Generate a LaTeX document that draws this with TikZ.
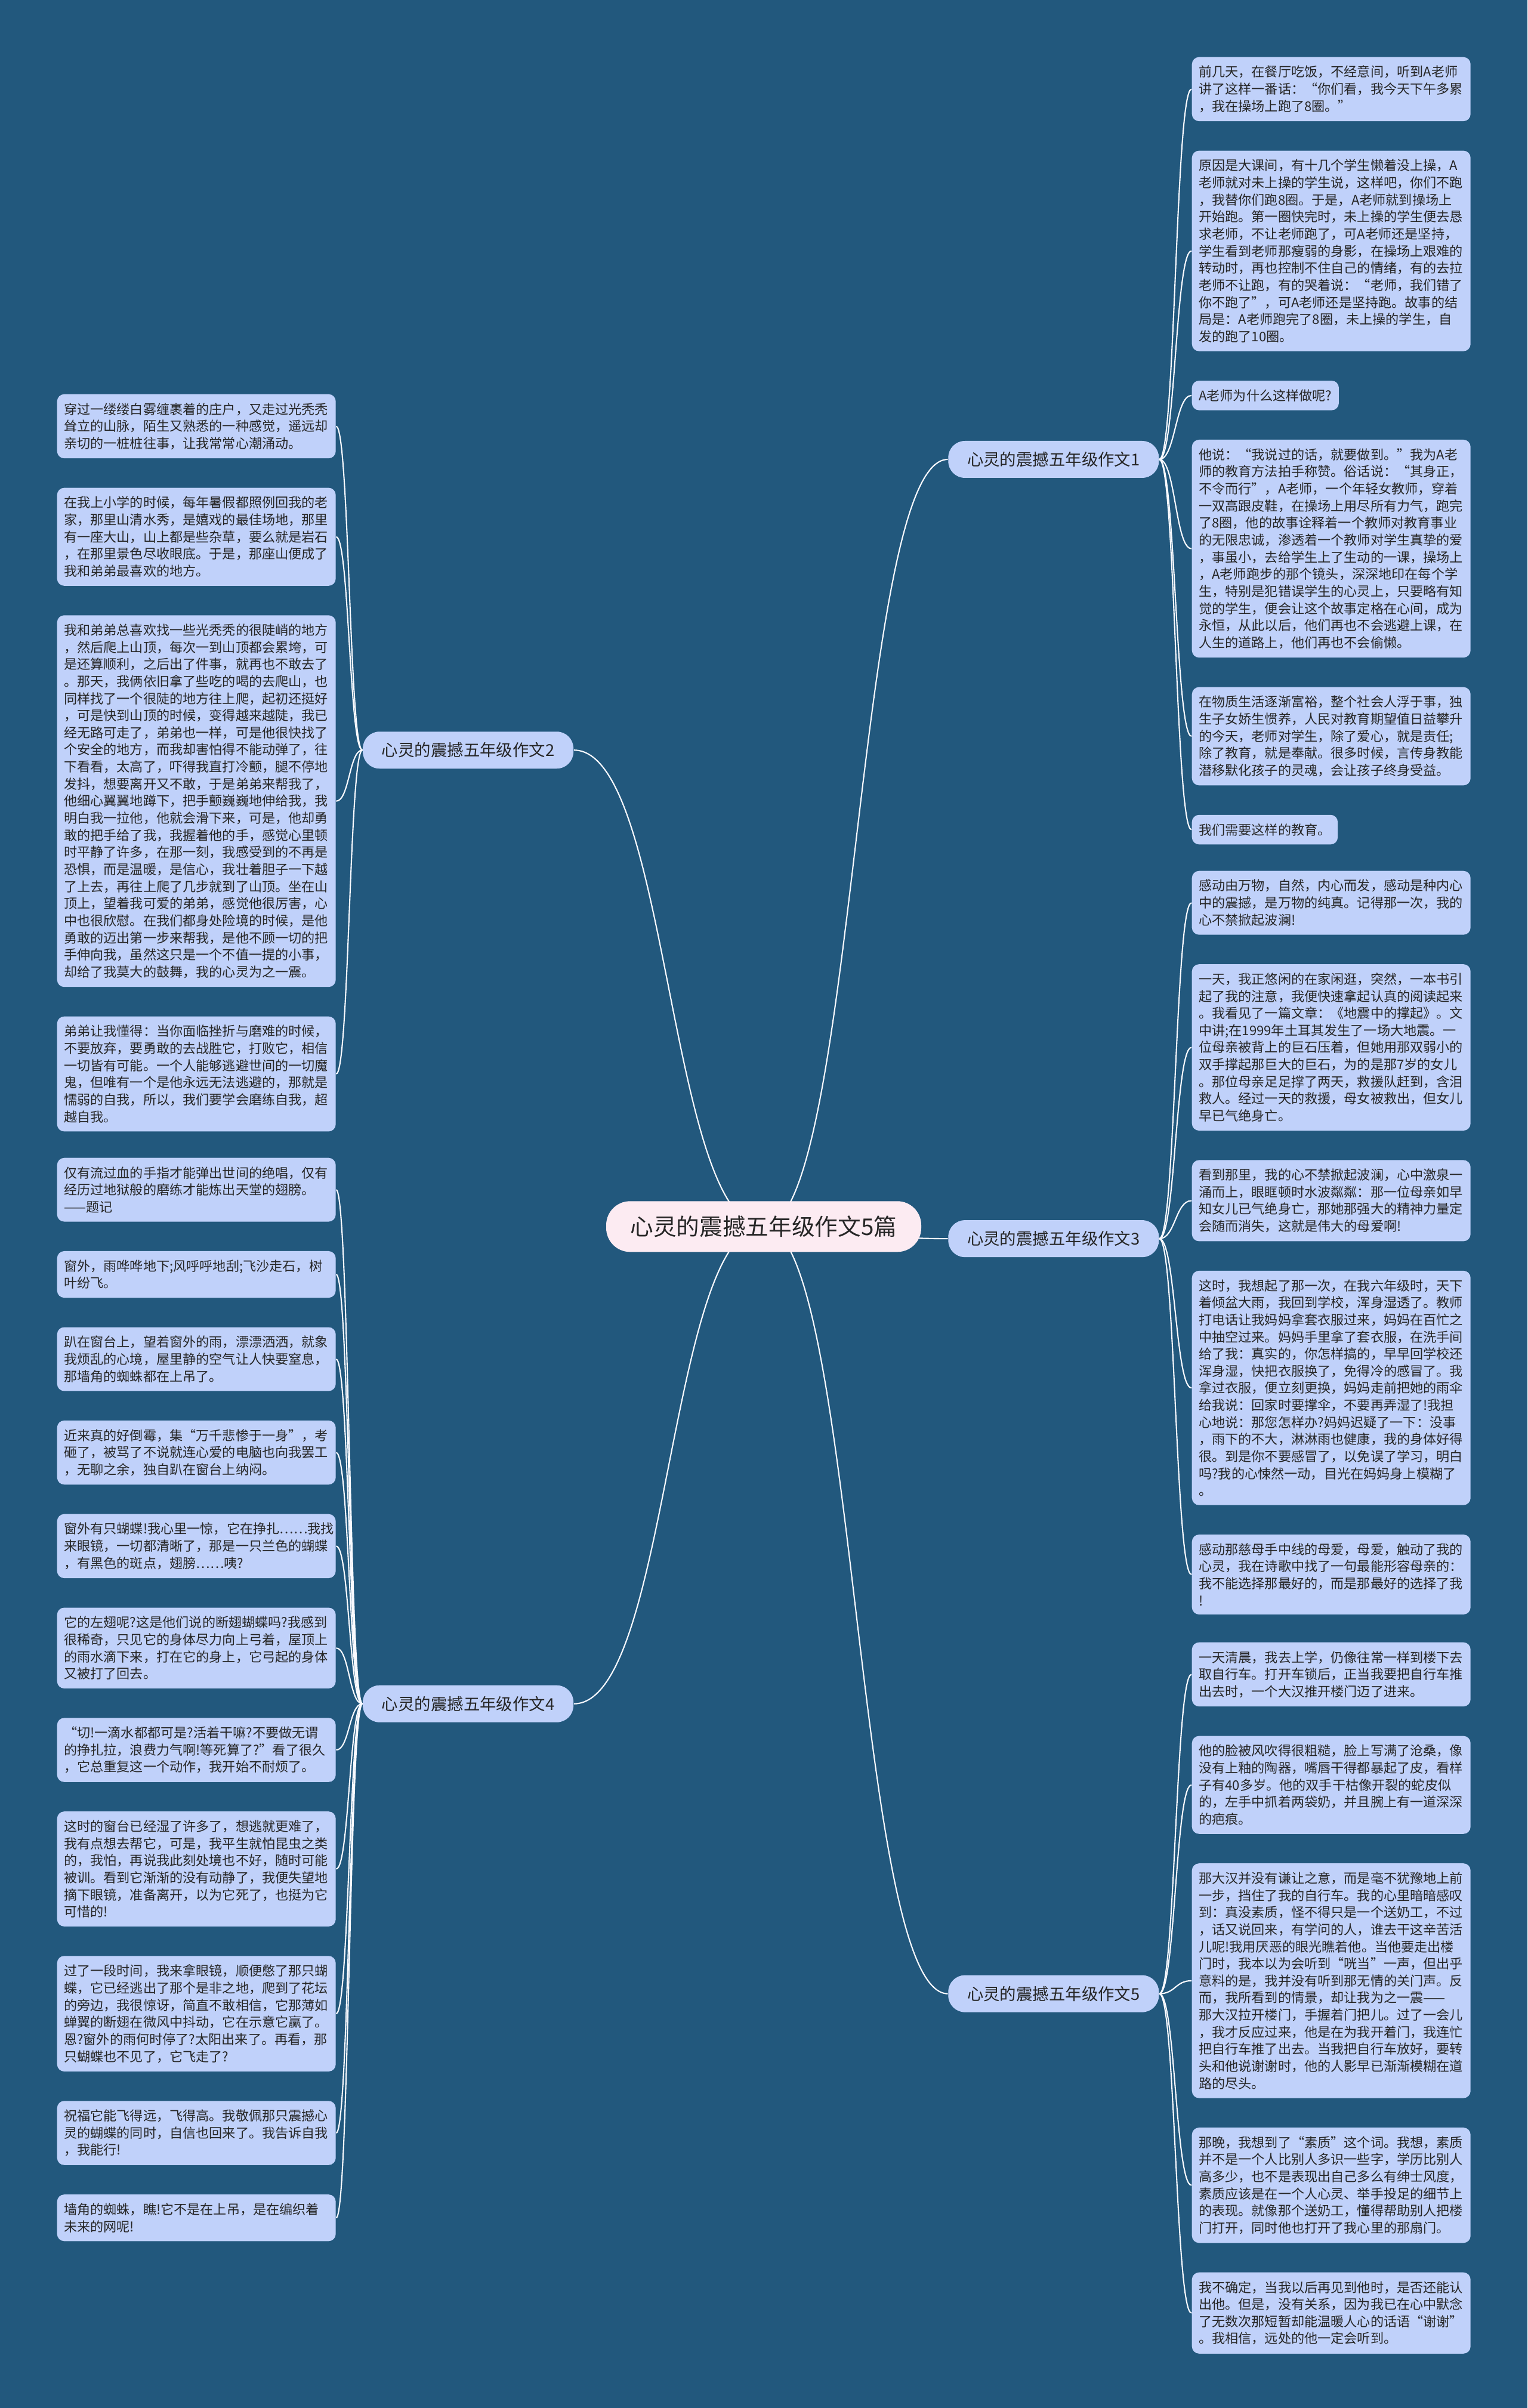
\documentclass[tikz,border=0pt]{standalone}
\usepackage{fontspec}
\setmainfont{Noto Sans CJK SC}
\usetikzlibrary{positioning,calc}
\definecolor{bgblue}{HTML}{22587D}
\definecolor{leafblue}{HTML}{C0D1FA}
\definecolor{rootpink}{HTML}{FCEBF2}
\definecolor{inkgrey}{HTML}{262626}
\tikzset{note/.style={fill=leafblue, rounded corners=0.12cm, align=left, inner xsep=0.115cm, inner ysep=0.145cm, text=inkgrey, font=\fontsize{6.3}{8.15}\selectfont}}
\tikzset{leaf/.style={note, text width=4.44cm}}
\tikzset{branch/.style={fill=leafblue, rounded corners=0.28cm, minimum width=3.53cm, minimum height=0.62cm, text=inkgrey, font=\fontsize{7.8}{9}\selectfont}}
\tikzset{root/.style={fill=rootpink, rounded corners=0.4cm, minimum width=5.28cm, minimum height=0.85cm, text=inkgrey, font=\fontsize{11}{13}\selectfont}}
\tikzset{link/.style={draw=white!90!leafblue, line width=0.6pt}}
\pgfdeclarelayer{edgelayer}
\pgfsetlayers{edgelayer,main}

\begin{document}
\begin{tikzpicture}
\useasboundingbox (0,0) rectangle (25.6,-40.36);
\begin{pgfonlayer}{edgelayer}
  \fill[bgblue] (0,0) rectangle (25.6,-40.36);
\end{pgfonlayer}

% right column, essay 1
\node[leaf, anchor=north west] (r1a) at (19.97,-0.95) {前几天，在餐厅吃饭，不经意间，听到A老师\\讲了这样一番话：“你们看，我今天下午多累\\，我在操场上跑了8圈。”};
\node[leaf, below=0.48cm of r1a.south west, anchor=north west] (r1b) {原因是大课间，有十几个学生懒着没上操，A\\老师就对未上操的学生说，这样吧，你们不跑\\，我替你们跑8圈。于是，A老师就到操场上\\开始跑。第一圈快完时，未上操的学生便去恳\\求老师，不让老师跑了，可A老师还是坚持，\\学生看到老师那瘦弱的身影，在操场上艰难的\\转动时，再也控制不住自己的情绪，有的去拉\\老师不让跑，有的哭着说：“老师，我们错了\\你不跑了”，可A老师还是坚持跑。故事的结\\局是：A老师跑完了8圈，未上操的学生，自\\发的跑了10圈。};
\node[note, below=0.48cm of r1b.south west, anchor=north west] (r1c) {A老师为什么这样做呢?};
\node[leaf, below=0.48cm of r1c.south west, anchor=north west] (r1d) {他说：“我说过的话，就要做到。”我为A老\\师的教育方法拍手称赞。俗话说：“其身正，\\不令而行”，A老师，一个年轻女教师，穿着\\一双高跟皮鞋，在操场上用尽所有力气，跑完\\了8圈，他的故事诠释着一个教师对教育事业\\的无限忠诚，渗透着一个教师对学生真挚的爱\\，事虽小，去给学生上了生动的一课，操场上\\，A老师跑步的那个镜头，深深地印在每个学\\生，特别是犯错误学生的心灵上，只要略有知\\觉的学生，便会让这个故事定格在心间，成为\\永恒，从此以后，他们再也不会逃避上课，在\\人生的道路上，他们再也不会偷懒。};
\node[leaf, below=0.48cm of r1d.south west, anchor=north west] (r1e) {在物质生活逐渐富裕，整个社会人浮于事，独\\生子女娇生惯养，人民对教育期望值日益攀升\\的今天，老师对学生，除了爱心，就是责任;\\除了教育，就是奉献。很多时候，言传身教能\\潜移默化孩子的灵魂，会让孩子终身受益。};
\node[note, below=0.48cm of r1e.south west, anchor=north west] (r1f) {我们需要这样的教育。};

% right column, essay 3
\node[leaf, anchor=north west] (r3a) at (19.97,-14.59) {感动由万物，自然，内心而发，感动是种内心\\中的震撼，是万物的纯真。记得那一次，我的\\心不禁掀起波澜!};
\node[leaf, below=0.48cm of r3a.south west, anchor=north west] (r3b) {一天，我正悠闲的在家闲逛，突然，一本书引\\起了我的注意，我便快速拿起认真的阅读起来\\。我看见了一篇文章：《地震中的撑起》。文\\中讲;在1999年土耳其发生了一场大地震。一\\位母亲被背上的巨石压着，但她用那双弱小的\\双手撑起那巨大的巨石，为的是那7岁的女儿\\。那位母亲足足撑了两天，救援队赶到，含泪\\救人。经过一天的救援，母女被救出，但女儿\\早已气绝身亡。};
\node[leaf, below=0.48cm of r3b.south west, anchor=north west] (r3c) {看到那里，我的心不禁掀起波澜，心中激泉一\\涌而上，眼眶顿时水波粼粼：那一位母亲如早\\知女儿已气绝身亡，那她那强大的精神力量定\\会随而消失，这就是伟大的母爱啊!};
\node[leaf, below=0.48cm of r3c.south west, anchor=north west] (r3d) {这时，我想起了那一次，在我六年级时，天下\\着倾盆大雨，我回到学校，浑身湿透了。教师\\打电话让我妈妈拿套衣服过来，妈妈在百忙之\\中抽空过来。妈妈手里拿了套衣服，在洗手间\\给了我：真实的，你怎样搞的，早早回学校还\\浑身湿，快把衣服换了，免得冷的感冒了。我\\拿过衣服，便立刻更换，妈妈走前把她的雨伞\\给我说：回家时要撑伞，不要再弄湿了!我担\\心地说：那您怎样办?妈妈迟疑了一下：没事\\，雨下的不大，淋淋雨也健康，我的身体好得\\很。到是你不要感冒了，以免误了学习，明白\\吗?我的心悚然一动，目光在妈妈身上模糊了\\。};
\node[leaf, below=0.48cm of r3d.south west, anchor=north west] (r3e) {感动那慈母手中线的母爱，母爱，触动了我的\\心灵，我在诗歌中找了一句最能形容母亲的：\\我不能选择那最好的，而是那最好的选择了我\\!};

% right column, essay 5
\node[leaf, anchor=north west] (r5a) at (19.97,-27.52) {一天清晨，我去上学，仍像往常一样到楼下去\\取自行车。打开车锁后，正当我要把自行车推\\出去时，一个大汉推开楼门迈了进来。};
\node[leaf, below=0.48cm of r5a.south west, anchor=north west] (r5b) {他的脸被风吹得很粗糙，脸上写满了沧桑，像\\没有上釉的陶器，嘴唇干得都暴起了皮，看样\\子有40多岁。他的双手干枯像开裂的蛇皮似\\的，左手中抓着两袋奶，并且腕上有一道深深\\的疤痕。};
\node[leaf, below=0.48cm of r5b.south west, anchor=north west] (r5c) {那大汉并没有谦让之意，而是毫不犹豫地上前\\一步，挡住了我的自行车。我的心里暗暗感叹\\到：真没素质，怪不得只是一个送奶工，不过\\，话又说回来，有学问的人，谁去干这辛苦活\\儿呢!我用厌恶的眼光瞧着他。当他要走出楼\\门时，我本以为会听到“咣当”一声，但出乎\\意料的是，我并没有听到那无情的关门声。反\\而，我所看到的情景，却让我为之一震——\\那大汉拉开楼门，手握着门把儿。过了一会儿\\，我才反应过来，他是在为我开着门，我连忙\\把自行车推了出去。当我把自行车放好，要转\\头和他说谢谢时，他的人影早已渐渐模糊在道\\路的尽头。};
\node[leaf, below=0.48cm of r5c.south west, anchor=north west] (r5d) {那晚，我想到了“素质”这个词。我想，素质\\并不是一个人比别人多识一些字，学历比别人\\高多少，也不是表现出自己多么有绅士风度，\\素质应该是在一个人心灵、举手投足的细节上\\的表现。就像那个送奶工，懂得帮助别人把楼\\门打开，同时他也打开了我心里的那扇门。};
\node[leaf, below=0.48cm of r5d.south west, anchor=north west] (r5e) {我不确定，当我以后再见到他时，是否还能认\\出他。但是，没有关系，因为我已在心中默念\\了无数次那短暂却能温暖人心的话语“谢谢”\\。我相信，远处的他一定会听到。};

% left column, essay 2
\node[leaf, anchor=north west] (l2a) at (0.95,-6.60) {穿过一缕缕白雾缠裹着的庄户，又走过光秃秃\\耸立的山脉，陌生又熟悉的一种感觉，遥远却\\亲切的一桩桩往事，让我常常心潮涌动。};
\node[leaf, below=0.48cm of l2a.south west, anchor=north west] (l2b) {在我上小学的时候，每年暑假都照例回我的老\\家，那里山清水秀，是嬉戏的最佳场地，那里\\有一座大山，山上都是些杂草，要么就是岩石\\，在那里景色尽收眼底。于是，那座山便成了\\我和弟弟最喜欢的地方。};
\node[leaf, below=0.48cm of l2b.south west, anchor=north west] (l2c) {我和弟弟总喜欢找一些光秃秃的很陡峭的地方\\，然后爬上山顶，每次一到山顶都会累垮，可\\是还算顺利，之后出了件事，就再也不敢去了\\。那天，我俩依旧拿了些吃的喝的去爬山，也\\同样找了一个很陡的地方往上爬，起初还挺好\\，可是快到山顶的时候，变得越来越陡，我已\\经无路可走了，弟弟也一样，可是他很快找了\\个安全的地方，而我却害怕得不能动弹了，往\\下看看，太高了，吓得我直打冷颤，腿不停地\\发抖，想要离开又不敢，于是弟弟来帮我了，\\他细心翼翼地蹲下，把手颤巍巍地伸给我，我\\明白我一拉他，他就会滑下来，可是，他却勇\\敢的把手给了我，我握着他的手，感觉心里顿\\时平静了许多，在那一刻，我感受到的不再是\\恐惧，而是温暖，是信心，我壮着胆子一下越\\了上去，再往上爬了几步就到了山顶。坐在山\\顶上，望着我可爱的弟弟，感觉他很厉害，心\\中也很欣慰。在我们都身处险境的时候，是他\\勇敢的迈出第一步来帮我，是他不顾一切的把\\手伸向我，虽然这只是一个不值一提的小事，\\却给了我莫大的鼓舞，我的心灵为之一震。};
\node[leaf, below=0.48cm of l2c.south west, anchor=north west] (l2d) {弟弟让我懂得：当你面临挫折与磨难的时候，\\不要放弃，要勇敢的去战胜它，打败它，相信\\一切皆有可能。一个人能够逃避世间的一切魔\\鬼，但唯有一个是他永远无法逃避的，那就是\\懦弱的自我，所以，我们要学会磨练自我，超\\越自我。};

% left column, essay 4
\node[leaf, anchor=north west] (l4a) at (0.95,-19.40) {仅有流过血的手指才能弹出世间的绝唱，仅有\\经历过地狱般的磨练才能炼出天堂的翅膀。\\——题记};
\node[leaf, below=0.48cm of l4a.south west, anchor=north west] (l4b) {窗外，雨哗哗地下;风呼呼地刮;飞沙走石，树\\叶纷飞。};
\node[leaf, below=0.48cm of l4b.south west, anchor=north west] (l4c) {趴在窗台上，望着窗外的雨，漂漂洒洒，就象\\我烦乱的心境，屋里静的空气让人快要窒息，\\那墙角的蜘蛛都在上吊了。};
\node[leaf, below=0.48cm of l4c.south west, anchor=north west] (l4d) {近来真的好倒霉，集“万千悲惨于一身”，考\\砸了，被骂了不说就连心爱的电脑也向我罢工\\，无聊之余，独自趴在窗台上纳闷。};
\node[leaf, below=0.48cm of l4d.south west, anchor=north west] (l4e) {窗外有只蝴蝶!我心里一惊，它在挣扎……我找\\来眼镜，一切都清晰了，那是一只兰色的蝴蝶\\，有黑色的斑点，翅膀……咦?};
\node[leaf, below=0.48cm of l4e.south west, anchor=north west] (l4f) {它的左翅呢?这是他们说的断翅蝴蝶吗?我感到\\很稀奇，只见它的身体尽力向上弓着，屋顶上\\的雨水滴下来，打在它的身上，它弓起的身体\\又被打了回去。};
\node[leaf, below=0.48cm of l4f.south west, anchor=north west] (l4g) {“切!一滴水都都可是?活着干嘛?不要做无谓\\的挣扎拉，浪费力气啊!等死算了?”看了很久\\，它总重复这一个动作，我开始不耐烦了。};
\node[leaf, below=0.48cm of l4g.south west, anchor=north west] (l4h) {这时的窗台已经湿了许多了，想逃就更难了，\\我有点想去帮它，可是，我平生就怕昆虫之类\\的，我怕，再说我此刻处境也不好，随时可能\\被训。看到它渐渐的没有动静了，我便失望地\\摘下眼镜，准备离开，以为它死了，也挺为它\\可惜的!};
\node[leaf, below=0.48cm of l4h.south west, anchor=north west] (l4i) {过了一段时间，我来拿眼镜，顺便憋了那只蝴\\蝶，它已经逃出了那个是非之地，爬到了花坛\\的旁边，我很惊讶，简直不敢相信，它那薄如\\蝉翼的断翅在微风中抖动，它在示意它赢了。\\恩?窗外的雨何时停了?太阳出来了。再看，那\\只蝴蝶也不见了，它飞走了?};
\node[leaf, below=0.48cm of l4i.south west, anchor=north west] (l4j) {祝福它能飞得远，飞得高。我敬佩那只震撼心\\灵的蝴蝶的同时，自信也回来了。我告诉自我\\，我能行!};
\node[leaf, below=0.48cm of l4j.south west, anchor=north west] (l4k) {墙角的蜘蛛，瞧!它不是在上吊，是在编织着\\未来的网呢!};

% branches, centred on their leaves
\node[branch, anchor=east] (b1) at ($(r1a.west)!0.5!(r1f.west)+(-0.54,0)$) {心灵的震撼五年级作文1};
\node[branch, anchor=east] (b3) at ($(r3a.west)!0.5!(r3e.west)+(-0.54,0)$) {心灵的震撼五年级作文3};
\node[branch, anchor=east] (b5) at ($(r5a.west)!0.5!(r5e.west)+(-0.54,0)$) {心灵的震撼五年级作文5};
\node[branch, anchor=west] (b2) at ($(l2a.east)!0.5!(l2d.east)+(0.44,0)$) {心灵的震撼五年级作文2};
\node[branch, anchor=west] (b4) at ($(l4a.east)!0.5!(l4k.east)+(0.44,0)$) {心灵的震撼五年级作文4};

\coordinate (rootmid) at ($(b1)!0.5!(b5)$);
\node[root] (root) at (12.8,0 |- rootmid) {心灵的震撼五年级作文5篇};

\begin{pgfonlayer}{edgelayer}
  \foreach \n in {b1,b3,b5}
    \draw[link] (root.center) .. controls +(1.55,0) and +(-1.55,0) .. (\n.west);
  \foreach \n in {b2,b4}
    \draw[link] (root.center) .. controls +(-1.6,0) and +(1.6,0) .. (\n.east);
  \foreach \n in {r1a,r1b,r1c,r1d,r1e,r1f}
    \draw[link] (b1.east) .. controls +(0.27,0) and +(-0.27,0) .. (\n.west);
  \foreach \n in {r3a,r3b,r3c,r3d,r3e}
    \draw[link] (b3.east) .. controls +(0.27,0) and +(-0.27,0) .. (\n.west);
  \foreach \n in {r5a,r5b,r5c,r5d,r5e}
    \draw[link] (b5.east) .. controls +(0.27,0) and +(-0.27,0) .. (\n.west);
  \foreach \n in {l2a,l2b,l2c,l2d}
    \draw[link] (b2.west) .. controls +(-0.22,0) and +(0.22,0) .. (\n.east);
  \foreach \n in {l4a,l4b,l4c,l4d,l4e,l4f,l4g,l4h,l4i,l4j,l4k}
    \draw[link] (b4.west) .. controls +(-0.22,0) and +(0.22,0) .. (\n.east);
\end{pgfonlayer}
\end{tikzpicture}
\end{document}
